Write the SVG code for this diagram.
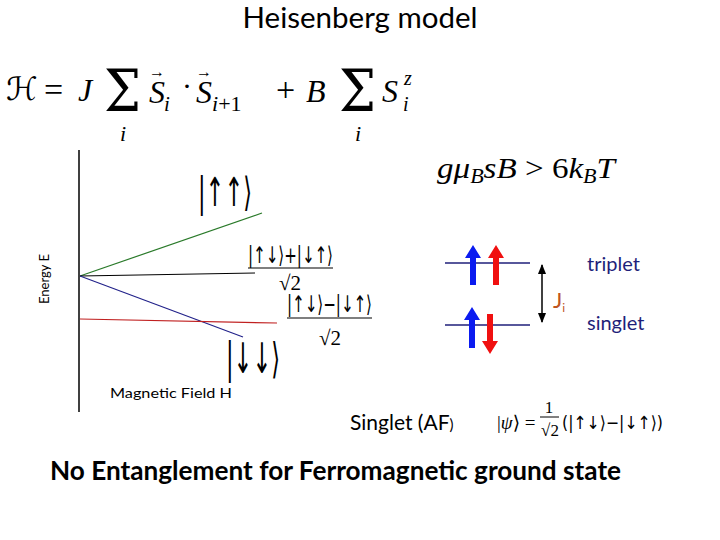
<svg xmlns="http://www.w3.org/2000/svg" width="720" height="540" viewBox="0 0 720 540">
<style>
.sans{font-family:Lato,"Open Sans","Liberation Sans",sans-serif;}
.m{font-family:"Liberation Serif","DejaVu Serif",serif;font-style:italic;fill:#000;}
.r{font-family:"Liberation Serif","DejaVu Serif",serif;fill:#000;}
.sig{font-family:"DejaVu Serif","Liberation Serif",serif;fill:#000;}
.ket{font-family:"DejaVu Sans","Liberation Serif",serif;fill:#000;}
.vec{font-family:"Liberation Serif","DejaVu Serif",serif;font-style:normal;}
.lvl{stroke:#1f1f7a;stroke-width:1.3;}
</style>
<defs>
<marker id="ah" viewBox="0 0 10 10" refX="9" refY="5" markerWidth="7" markerHeight="7" orient="auto-start-reverse">
<path d="M0,1 L10,5 L0,9 Z" fill="#000"/>
</marker>
</defs>
<rect width="720" height="540" fill="#fff"/>
<g id="title"><text class="sans" x="360" y="28" font-size="28" text-anchor="middle" textLength="235" lengthAdjust="spacingAndGlyphs">Heisenberg model</text></g>
<g id="hamiltonian">
<text class="ket" x="6" y="100" font-size="32" font-style="italic">ℋ</text>
<text class="r" x="44" y="101" font-size="34">=</text>
<text class="m" x="78" y="101" font-size="32">J</text>
<text class="sig" x="104" y="111" font-size="58" textLength="37" lengthAdjust="spacingAndGlyphs">Σ</text>
<text class="m" x="120" y="141" font-size="22">i</text>
<text class="m" x="149" y="103" font-size="32">S<tspan class="vec" font-size="16" dx="-16" dy="-26">→</tspan><tspan font-size="21" dx="-1" dy="34">i</tspan></text>
<text class="r" x="182" y="96" font-size="30">·</text>
<text class="m" x="196" y="103" font-size="32">S<tspan class="vec" font-size="16" dx="-16" dy="-26">→</tspan><tspan font-size="22" dx="0" dy="34">i</tspan><tspan font-style="normal" font-size="22">+1</tspan></text>
<text class="r" x="276" y="101" font-size="34">+</text>
<text class="m" x="306" y="102" font-size="32">B</text>
<text class="sig" x="339" y="111" font-size="58" textLength="37" lengthAdjust="spacingAndGlyphs">Σ</text>
<text class="m" x="355" y="141" font-size="22">i</text>
<text class="m" x="382" y="102" font-size="32">S</text>
<text class="m" x="404" y="85" font-size="20">z</text>
<text class="m" x="403" y="111" font-size="20">i</text>
</g>
<g id="condition">
<text class="m" x="437" y="178" font-size="30" textLength="178" lengthAdjust="spacingAndGlyphs">g<tspan>μ</tspan><tspan font-size="20" dy="5">B</tspan><tspan dy="-5">sB</tspan><tspan font-style="normal"> &gt; 6</tspan>k<tspan font-size="20" dy="5">B</tspan><tspan dy="-5">T</tspan></text>
</g>
<g id="axes">
<line x1="79" y1="150" x2="79" y2="412" stroke="#000" stroke-width="1.5"/>
<text class="sans" transform="translate(49,279) rotate(-90)" font-size="13" text-anchor="middle">Energy E</text>
<text class="sans" x="110" y="398" font-size="14" textLength="122" lengthAdjust="spacingAndGlyphs">Magnetic Field H</text>
</g>
<g id="connectors">
<line x1="80" y1="276" x2="262" y2="213" stroke="#2a7a2a" stroke-width="1.2"/>
<line x1="80" y1="276" x2="255" y2="273" stroke="#000" stroke-width="1.2"/>
<line x1="80" y1="276" x2="243" y2="337" stroke="#22228a" stroke-width="1.2"/>
<line x1="80" y1="319" x2="277" y2="323" stroke="#c02020" stroke-width="1.2"/>
<line class="lvl" x1="445" y1="263" x2="530" y2="263"/>
<line class="lvl" x1="445" y1="325" x2="530" y2="325"/>
<line x1="542" y1="265" x2="542" y2="322" stroke="#000" stroke-width="1.5" marker-start="url(#ah)" marker-end="url(#ah)"/>
</g>
<g id="ket-upup"><text class="ket" x="198" y="206" font-size="40" textLength="54" lengthAdjust="spacingAndGlyphs">|↑↑⟩</text></g>
<g id="ket-downdown"><text class="ket" x="226" y="373" font-size="42" textLength="54" lengthAdjust="spacingAndGlyphs">|↓↓⟩</text></g>
<g id="ket-triplet0">
<text class="ket" x="248" y="263" font-size="23" textLength="85" lengthAdjust="spacingAndGlyphs">|↑↓⟩+|↓↑⟩</text>
<line x1="248" y1="268" x2="333" y2="268" stroke="#000" stroke-width="1.2"/>
<text class="r" x="290" y="290" font-size="21" text-anchor="middle">√2</text>
</g>
<g id="ket-singlet">
<text class="ket" x="287" y="312" font-size="23" textLength="85" lengthAdjust="spacingAndGlyphs">|↑↓⟩−|↓↑⟩</text>
<line x1="287" y1="318" x2="372" y2="318" stroke="#000" stroke-width="1.2"/>
<text class="r" x="330" y="345" font-size="21" text-anchor="middle">√2</text>
</g>
<g id="spins">
<polygon fill="#0b1bf0" points="470,285 470,258 465,258 473,245 481,258 476,258 476,285"/>
<polygon fill="#f01010" points="493,285 493,258 488,258 496,245 504,258 499,258 499,285"/>
<polygon fill="#0b1bf0" points="469,348 469,320 464,320 472,307 480,320 475,320 475,348"/>
<polygon fill="#f01010" points="487,314 487,341 482,341 490,354 498,341 493,341 493,314"/>
</g>
<g id="labels-right">
<text class="sans" x="553" y="308" font-size="22" fill="#c0561f">J<tspan font-size="12" dy="4">i</tspan></text>
<text class="sans" x="587" y="271" font-size="20" fill="#1f1f7a">triplet</text>
<text class="sans" x="587" y="330" font-size="20" fill="#1f1f7a">singlet</text>
</g>
<g id="singlet-af">
<text class="sans" x="350" y="430" font-size="21">Singlet (AF<tspan font-size="15">)</tspan></text>
<text class="r" x="497" y="429" font-size="19">|<tspan font-style="italic">ψ</tspan>⟩ =</text>
<text class="r" x="549" y="413" font-size="17" text-anchor="middle">1</text>
<line x1="540" y1="417" x2="559" y2="417" stroke="#000" stroke-width="1"/>
<text class="r" x="550" y="436" font-size="17" text-anchor="middle">√2</text>
<text class="ket" x="562" y="429" font-size="18" textLength="101" lengthAdjust="spacingAndGlyphs">(|↑↓⟩−|↓↑⟩)</text>
</g>
<g id="conclusion"><text class="sans" x="50" y="480" font-size="26" font-weight="bold" textLength="571" lengthAdjust="spacingAndGlyphs">No Entanglement for Ferromagnetic ground state</text></g>
</svg>
